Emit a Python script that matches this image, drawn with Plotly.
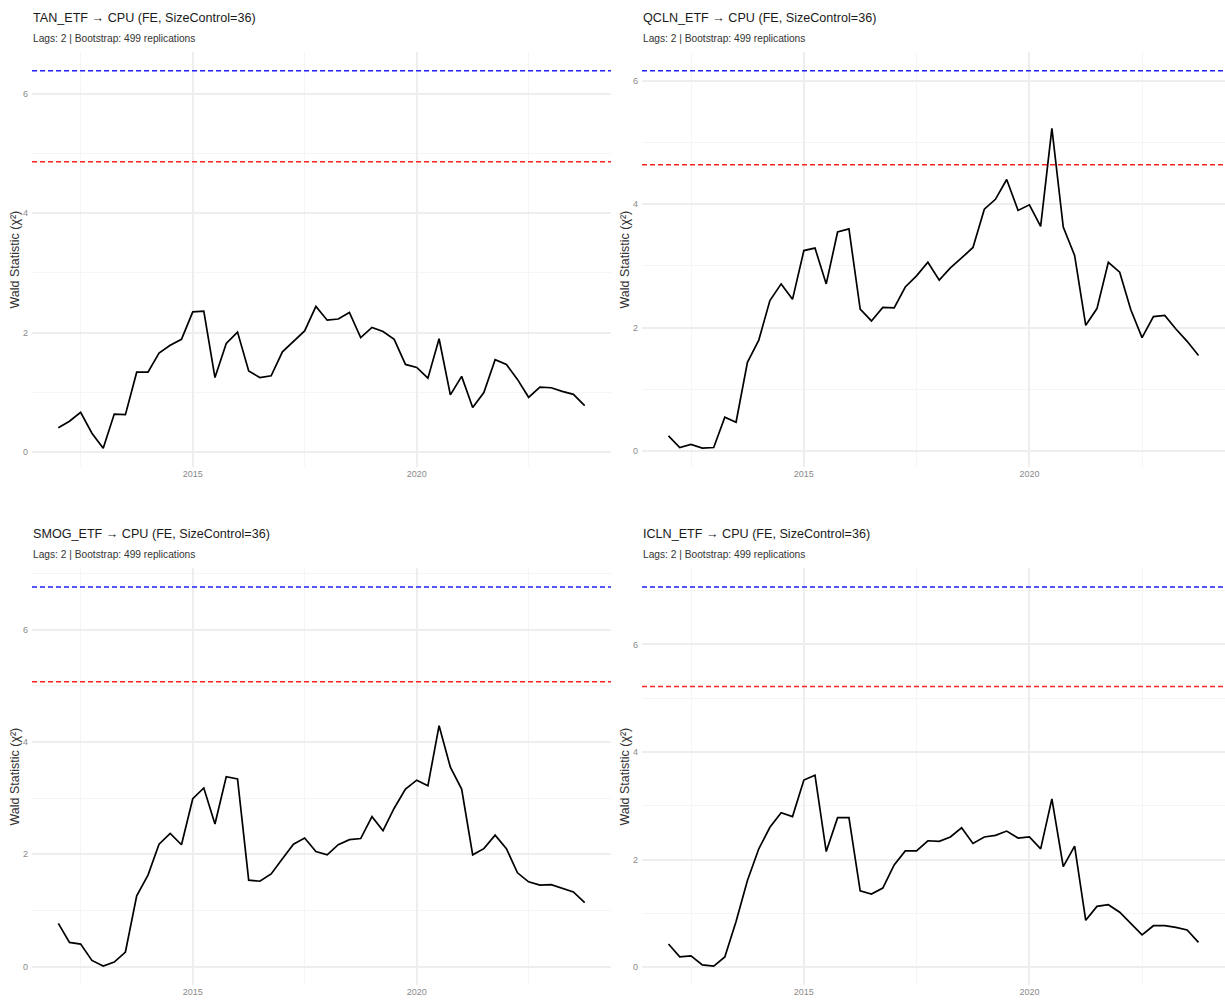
import pandas as pd
import plotly.graph_objects as go

# Quarterly observation dates (2012Q1 .. 2023Q4)
dates = pd.date_range("2012-01-01", periods=48, freq="QS")

etf_names = ["TAN_ETF", "QCLN_ETF", "SMOG_ETF", "ICLN_ETF"]

tan_wald = [0.41, 0.52, 0.67, 0.32, 0.07, 0.64, 0.63, 1.34, 1.34, 1.66,
            1.79, 1.89, 2.35, 2.36, 1.25, 1.82, 2.01, 1.36, 1.25, 1.28,
            1.68, 1.85, 2.03, 2.44, 2.21, 2.23, 2.34, 1.92, 2.09, 2.02,
            1.89, 1.47, 1.42, 1.24, 1.90, 0.96, 1.27, 0.75, 1.00, 1.55,
            1.47, 1.22, 0.92, 1.09, 1.08, 1.02, 0.97, 0.78]
qcln_wald = [0.25, 0.06, 0.11, 0.05, 0.06, 0.55, 0.47, 1.44, 1.80, 2.44,
             2.71, 2.46, 3.25, 3.29, 2.71, 3.55, 3.60, 2.30, 2.11, 2.33,
             2.32, 2.66, 2.84, 3.06, 2.77, 2.97, 3.13, 3.30, 3.92, 4.08,
             4.40, 3.90, 3.99, 3.64, 5.23, 3.63, 3.17, 2.04, 2.31, 3.06,
             2.90, 2.29, 1.84, 2.18, 2.20, 1.98, 1.78, 1.55]
smog_wald = [0.77, 0.43, 0.40, 0.11, 0.01, 0.08, 0.26, 1.26, 1.63, 2.18,
             2.37, 2.17, 2.99, 3.18, 2.54, 3.38, 3.34, 1.54, 1.52, 1.65,
             1.92, 2.18, 2.29, 2.05, 1.99, 2.17, 2.26, 2.28, 2.67, 2.42,
             2.82, 3.16, 3.32, 3.22, 4.29, 3.55, 3.16, 1.99, 2.10, 2.34,
             2.10, 1.67, 1.51, 1.45, 1.46, 1.40, 1.33, 1.14]
icln_wald = [0.43, 0.19, 0.21, 0.04, 0.02, 0.19, 0.85, 1.61, 2.20, 2.60,
             2.87, 2.80, 3.48, 3.57, 2.15, 2.78, 2.78, 1.42, 1.36, 1.47,
             1.90, 2.16, 2.16, 2.35, 2.34, 2.42, 2.59, 2.30, 2.42, 2.45,
             2.53, 2.40, 2.42, 2.20, 3.13, 1.87, 2.25, 0.87, 1.13, 1.16,
             1.02, 0.82, 0.60, 0.77, 0.77, 0.74, 0.69, 0.46]

# Bootstrap critical values (5% and 1%)
crit_5pct = [4.86, 4.64, 5.07, 5.22]
crit_1pct = [6.38, 6.16, 6.76, 7.07]

y_ticks = [0, 2, 4, 6]
y_minor = [1, 3, 5, 7]
x_ticks = ["2015-01-01", "2020-01-01"]
x_tick_labels = ["2015", "2020"]
x_minor = ["2012-07-02", "2017-07-02", "2022-07-02"]

series = [tan_wald, qcln_wald, smog_wald, icln_wald]

W, H = 1225, 1002
FONT = "Liberation Sans, Arial, sans-serif"

# panel boxes in pixels: (left, right, top, bottom)
panels = [(32, 611, 52, 467), (642, 1225, 52, 467),
          (32, 611, 568, 985), (642, 1225, 568, 985)]

# x range with 5% padding on each side
t0, t1 = dates[0], dates[-1]
pad = (t1 - t0) * 0.05
x_range = [t0 - pad, t1 + pad]

fig = go.Figure()
layout = dict(width=W, height=H, margin=dict(l=0, r=0, t=0, b=0),
              paper_bgcolor="white", plot_bgcolor="white", showlegend=False)
annotations = []
shapes = []

for i, (name, vals) in enumerate(zip(etf_names, series)):
    L, R, T, B = panels[i]
    xa = "xaxis" if i == 0 else f"xaxis{i + 1}"
    ya = "yaxis" if i == 0 else f"yaxis{i + 1}"
    xr = "x" if i == 0 else f"x{i + 1}"
    yr = "y" if i == 0 else f"y{i + 1}"

    lo = min(min(vals), crit_5pct[i], crit_1pct[i])
    hi = max(max(vals), crit_5pct[i], crit_1pct[i])
    span = hi - lo
    y_range = [lo - 0.05 * span, hi + 0.05 * span]

    layout[xa] = dict(domain=[L / W, R / W], anchor=yr, type="date",
                      range=x_range, tickmode="array", tickvals=x_ticks,
                      ticktext=x_tick_labels, showgrid=True,
                      gridcolor="#eeeeee", gridwidth=1.8, zeroline=False,
                      showline=False, ticks="",
                      tickfont=dict(family=FONT, size=9, color="#8a8a8a"),
                      minor=dict(tickvals=x_minor, showgrid=True,
                                 gridcolor="#f5f5f5", gridwidth=1))
    layout[ya] = dict(domain=[1 - B / H, 1 - T / H], anchor=xr,
                      range=y_range, tickmode="array", tickvals=y_ticks,
                      showgrid=True, gridcolor="#eeeeee", gridwidth=1.8,
                      zeroline=False, showline=False, ticks="",
                      ticklabelstandoff=3,
                      tickfont=dict(family=FONT, size=9, color="#8a8a8a"),
                      minor=dict(tickvals=y_minor, showgrid=True,
                                 gridcolor="#f5f5f5", gridwidth=1))

    fig.add_trace(go.Scatter(x=dates, y=vals, mode="lines", xaxis=xr, yaxis=yr,
                             line=dict(color="black", width=1.7),
                             hoverinfo="x+y"))

    for val, col in ((crit_1pct[i], "#1f1fff"), (crit_5pct[i], "#ff2020")):
        shapes.append(dict(type="line", xref=f"{xr} domain", yref=yr,
                           x0=0, x1=1, y0=val, y1=val,
                           line=dict(color=col, width=1.5, dash="5px,3px")))

    annotations.append(dict(text=f"{name} \u2192 CPU (FE, SizeControl=36)",
                            xref="paper", yref="paper", x=(L - 1) / W,
                            y=1 - (T - 34) / H, xanchor="left",
                            yanchor="middle", showarrow=False,
                            font=dict(family=FONT, size=12.6, color="#1a1a1a")))
    annotations.append(dict(text="Lags: 2 | Bootstrap: 499 replications",
                            xref="paper", yref="paper", x=(L - 1) / W,
                            y=1 - (T - 14) / H, xanchor="left",
                            yanchor="middle", showarrow=False,
                            font=dict(family=FONT, size=10.2, color="#333333")))
    annotations.append(dict(text="Wald Statistic (\u03c7\u00b2)", textangle=-90,
                            xref="paper", yref="paper", x=(L - 18) / W,
                            y=1 - ((T + B) / 2) / H, xanchor="center",
                            yanchor="middle", showarrow=False,
                            font=dict(family=FONT, size=12.5, color="#333333")))

layout["annotations"] = annotations
layout["shapes"] = shapes
fig.update_layout(**layout)
fig.write_html("out.html")
